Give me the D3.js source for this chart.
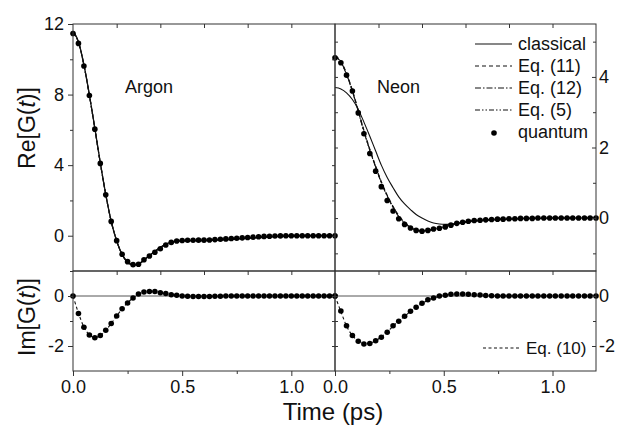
<!DOCTYPE html>
<html><head><meta charset="utf-8">
<script src="https://cdn.jsdelivr.net/npm/d3@7"></script>
<style>
body{margin:0;background:#fff;}
svg{display:block;font-family:"Liberation Sans",Arial,sans-serif;}
.tick text{fill:#111;}
</style></head>
<body><svg id="c" width="618" height="430"></svg>
<script>
// ---------- data ----------
const argonT = [0,0.025,0.05,0.075,0.1,0.125,0.15,0.175,0.2,0.225,0.25,0.275,0.3,0.325,0.35,0.375,0.4,0.425,0.45,0.475,0.5,0.525,0.55,0.575,0.6,0.625,0.65,0.675,0.7,0.725,0.75,0.775,0.8,0.825,0.85,0.875,0.9,0.925,0.95,0.975,1.0,1.025,1.05,1.075,1.1,1.125,1.15,1.175,1.2];
const neonT = [0,0.027,0.053,0.08,0.107,0.133,0.16,0.187,0.213,0.24,0.267,0.293,0.32,0.347,0.373,0.4,0.427,0.453,0.48,0.507,0.533,0.56,0.587,0.613,0.64,0.667,0.693,0.72,0.747,0.773,0.8,0.827,0.853,0.88,0.907,0.933,0.96,0.987,1.013,1.04,1.067,1.093,1.12,1.147,1.173,1.2];

const argonReQuantum = [11.46,10.9,9.62,7.95,6.04,4.1,2.32,0.81,-0.28,-1.05,-1.47,-1.64,-1.62,-1.36,-1.15,-0.94,-0.74,-0.53,-0.38,-0.3,-0.27,-0.26,-0.26,-0.25,-0.25,-0.24,-0.22,-0.2,-0.18,-0.16,-0.14,-0.12,-0.1,-0.08,-0.06,-0.04,-0.03,-0.02,-0.01,0,0,0,0,0,0,0,0,0,0];
const argonReClassical = [11.6,11.0,9.7,8.0,6.1,4.15,2.35,0.82,-0.3,-1.07,-1.5,-1.66,-1.6,-1.38,-1.12,-0.88,-0.66,-0.48,-0.37,-0.31,-0.29,-0.28,-0.28,-0.27,-0.27,-0.26,-0.25,-0.24,-0.23,-0.21,-0.19,-0.17,-0.15,-0.13,-0.11,-0.09,-0.07,-0.05,-0.04,-0.03,-0.02,-0.01,-0.01,0,0,0,0,0,0];
const argonReEq11 = [11.56,10.97,9.68,7.98,6.08,4.13,2.34,0.82,-0.29,-1.06,-1.49,-1.65,-1.6,-1.37,-1.12,-0.89,-0.67,-0.49,-0.37,-0.31,-0.28,-0.27,-0.27,-0.26,-0.26,-0.25,-0.24,-0.22,-0.21,-0.19,-0.17,-0.15,-0.13,-0.11,-0.09,-0.07,-0.05,-0.04,-0.03,-0.02,-0.01,-0.01,0,0,0,0,0,0,0];
const argonReEq12 = [11.55,10.96,9.67,7.97,6.07,4.12,2.33,0.81,-0.29,-1.06,-1.49,-1.65,-1.61,-1.37,-1.13,-0.9,-0.68,-0.5,-0.38,-0.31,-0.28,-0.27,-0.27,-0.26,-0.26,-0.25,-0.24,-0.22,-0.21,-0.19,-0.17,-0.15,-0.13,-0.11,-0.09,-0.07,-0.05,-0.04,-0.03,-0.02,-0.01,-0.01,0,0,0,0,0,0,0];
const argonReEq5 = [11.55,10.96,9.67,7.97,6.07,4.12,2.33,0.81,-0.29,-1.06,-1.49,-1.65,-1.61,-1.37,-1.13,-0.9,-0.68,-0.5,-0.38,-0.31,-0.28,-0.27,-0.27,-0.26,-0.26,-0.25,-0.24,-0.22,-0.21,-0.19,-0.17,-0.15,-0.13,-0.11,-0.09,-0.07,-0.05,-0.04,-0.03,-0.02,-0.01,-0.01,0,0,0,0,0,0,0];

const neonReQuantum = [4.54,4.4,4.05,3.6,2.98,2.39,1.83,1.33,0.89,0.5,0.2,-0.02,-0.18,-0.28,-0.35,-0.37,-0.35,-0.31,-0.29,-0.25,-0.2,-0.15,-0.12,-0.09,-0.07,-0.06,-0.05,-0.04,-0.03,-0.03,-0.02,-0.02,-0.01,-0.01,-0.01,0,0,0,0,0,0,0,0,0,0,0];
const neonReClassical = [3.70,3.66,3.55,3.36,3.08,2.72,2.32,1.9,1.5,1.15,0.86,0.6,0.4,0.24,0.1,0.0,-0.08,-0.14,-0.17,-0.18,-0.17,-0.15,-0.13,-0.11,-0.09,-0.08,-0.07,-0.06,-0.05,-0.04,-0.03,-0.03,-0.02,-0.02,-0.01,-0.01,-0.01,0,0,0,0,0,0,0,0,0];
const neonReEq11 = [4.6,4.45,4.1,3.62,3.05,2.48,1.95,1.47,1.03,0.65,0.33,0.07,-0.12,-0.25,-0.33,-0.36,-0.35,-0.32,-0.28,-0.24,-0.2,-0.16,-0.12,-0.09,-0.07,-0.06,-0.05,-0.04,-0.03,-0.03,-0.02,-0.02,-0.01,-0.01,-0.01,0,0,0,0,0,0,0,0,0,0,0];
const neonReEq12 = [4.58,4.43,4.08,3.6,3.03,2.46,1.93,1.45,1.01,0.63,0.31,0.05,-0.13,-0.26,-0.34,-0.36,-0.35,-0.32,-0.28,-0.24,-0.2,-0.16,-0.12,-0.09,-0.07,-0.06,-0.05,-0.04,-0.03,-0.03,-0.02,-0.02,-0.01,-0.01,-0.01,0,0,0,0,0,0,0,0,0,0,0];
const neonReEq5 = [4.57,4.42,4.07,3.59,3.02,2.45,1.92,1.44,1.0,0.62,0.3,0.04,-0.14,-0.27,-0.34,-0.37,-0.35,-0.32,-0.28,-0.24,-0.2,-0.16,-0.12,-0.09,-0.07,-0.06,-0.05,-0.04,-0.03,-0.03,-0.02,-0.02,-0.01,-0.01,-0.01,0,0,0,0,0,0,0,0,0,0,0];

const argonImQuantum = [0,-0.7,-1.25,-1.56,-1.67,-1.58,-1.37,-1.1,-0.8,-0.51,-0.28,-0.08,0.08,0.16,0.18,0.18,0.13,0.1,0.05,0.03,0,-0.01,-0.02,-0.02,-0.02,-0.02,-0.01,-0.01,0,0,0,0,0,0,0,0,0,0,0,0,0,0,0,0,0,0,0,0,0];
const argonImEq10 = [0,-0.68,-1.24,-1.55,-1.66,-1.58,-1.38,-1.1,-0.8,-0.51,-0.27,-0.08,0.07,0.15,0.18,0.17,0.13,0.09,0.05,0.02,0,-0.01,-0.02,-0.02,-0.02,-0.02,-0.01,-0.01,0,0,0,0,0,0,0,0,0,0,0,0,0,0,0,0,0,0,0,0,0];
const neonImQuantum = [0,-0.6,-1.19,-1.58,-1.81,-1.92,-1.9,-1.79,-1.65,-1.45,-1.19,-1.01,-0.81,-0.61,-0.45,-0.29,-0.15,-0.08,0,0.03,0.07,0.08,0.08,0.07,0.05,0.04,0.02,0.01,0,0,0,0,0,0,0,0,0,0,0,0,0,0,0,0,0,0];
const neonImEq10 = [0,-0.62,-1.2,-1.58,-1.8,-1.9,-1.89,-1.79,-1.63,-1.44,-1.2,-1.0,-0.81,-0.62,-0.45,-0.3,-0.17,-0.08,-0.01,0.03,0.06,0.07,0.07,0.06,0.05,0.04,0.02,0.01,0,0,0,0,0,0,0,0,0,0,0,0,0,0,0,0,0,0];

const xMajorTicks = [0, 0.5, 1.0];
const xMinorTicks = [0.25, 0.75];
const xTopTicks = [0.2, 0.4, 0.6, 0.8, 1.0];
const argonReMajor = [0, 4, 8, 12];
const argonReMinor = [-2, 2, 6, 10];
const neonReMajor = [0, 2, 4];
const neonReMinor = [-1, 1, 3, 5];
const imMajor = [0, -2];
const imMinor = [-1];
const legendLabels = ["classical", "Eq. (11)", "Eq. (12)", "Eq. (5)", "quantum"];

// ---------- layout ----------
const L = 73, M = 335, R = 596, T = 24, MID = 271, B = 371;
const svg = d3.select("#c");
const xL = d3.scaleLinear().domain([0, 1.2]).range([L, M]);
const xR = d3.scaleLinear().domain([0, 1.2]).range([M, R]);
const yAr = d3.scaleLinear().domain([-2, 12]).range([MID, T]);
const yNe = d3.scaleLinear().domain([-1.5, 5.5]).range([MID, T]);
const yIm = d3.scaleLinear().domain([-3, 1]).range([B, MID]);

const dashes = {classical: null, eq11: "4,3", eq12: "6,2,1.5,2", eq5: "5,2,1.5,2,1.5,2", eq10: "3,2.5"};
const fmt = d3.format(".1f");

function drawAxis(gen, tr, vals, size, labels, fontSize) {
  const g = svg.append("g").attr("transform", tr)
    .call(gen.tickValues(vals).tickSize(size).tickPadding(4)
      .tickFormat(labels ? labels : () => ""));
  g.select(".domain").remove();
  g.selectAll(".tick line").attr("stroke", "#333").attr("stroke-width", 1);
  g.selectAll(".tick text").attr("font-size", fontSize || 18).attr("font-family", "Liberation Sans, Arial, sans-serif");
  return g;
}

// zero lines in Im panels
svg.append("line").attr("x1", L).attr("x2", R).attr("y1", yIm(0)).attr("y2", yIm(0)).attr("stroke", "#555").attr("stroke-width", 1);

function drawLine(xs, ts, ys, vals, dash, w) {
  const line = d3.line().x((d, i) => xs(ts[i])).y(d => ys(d)).curve(d3.curveMonotoneX);
  svg.append("path").attr("d", line(vals)).attr("fill", "none").attr("stroke", "#111")
    .attr("stroke-width", w || 1.1).attr("stroke-dasharray", dash);
}
function drawDots(xs, ts, ys, vals) {
  svg.append("g").selectAll("circle").data(vals).join("circle")
    .attr("cx", (d, i) => xs(ts[i])).attr("cy", d => ys(d)).attr("r", 2.8).attr("fill", "#000");
}

// Argon Re
drawLine(xL, argonT, yAr, argonReEq5, dashes.eq5);
drawLine(xL, argonT, yAr, argonReEq12, dashes.eq12);
drawLine(xL, argonT, yAr, argonReEq11, dashes.eq11);
drawLine(xL, argonT, yAr, argonReClassical, null, 1.3);
drawDots(xL, argonT, yAr, argonReQuantum);
// Neon Re
drawLine(xR, neonT, yNe, neonReEq5, dashes.eq5);
drawLine(xR, neonT, yNe, neonReEq12, dashes.eq12);
drawLine(xR, neonT, yNe, neonReEq11, dashes.eq11, 1.2);
drawLine(xR, neonT, yNe, neonReClassical, null, 1.1);
drawDots(xR, neonT, yNe, neonReQuantum);
// Im
drawLine(xL, argonT, yIm, argonImEq10, dashes.eq10);
drawDots(xL, argonT, yIm, argonImQuantum);
drawLine(xR, neonT, yIm, neonImEq10, dashes.eq10);
drawDots(xR, neonT, yIm, neonImQuantum);

// frames
[[L, T, M - L, MID - T], [M, T, R - M, MID - T], [L, MID, M - L, B - MID], [M, MID, R - M, B - MID]].forEach(r => {
  svg.append("rect").attr("x", r[0]).attr("y", r[1]).attr("width", r[2]).attr("height", r[3])
    .attr("fill", "none").attr("stroke", "#333").attr("stroke-width", 1);
});

// x axes: bottom (labels), top edges & middle (minor 0.2 ticks)
[xL, xR].forEach(xs => {
  drawAxis(d3.axisBottom(xs), `translate(0,${B})`, xMajorTicks, 5, fmt, 18);
  drawAxis(d3.axisBottom(xs), `translate(0,${B})`, xMinorTicks, 3);
  drawAxis(d3.axisBottom(xs), `translate(0,${T})`, xTopTicks, 4);
  drawAxis(d3.axisBottom(xs), `translate(0,${MID})`, xTopTicks, 4);
});

// y axes
drawAxis(d3.axisLeft(yAr), `translate(${L},0)`, argonReMajor, 5, d => d, 18);
drawAxis(d3.axisLeft(yAr), `translate(${L},0)`, argonReMinor, 3);
drawAxis(d3.axisLeft(yIm), `translate(${L},0)`, imMajor, 5, d => d, 18);
drawAxis(d3.axisLeft(yIm), `translate(${L},0)`, imMinor, 3);
// divider ticks
drawAxis(d3.axisLeft(yAr), `translate(${M},0)`, argonReMajor.concat(argonReMinor).filter(v => v > -2 && v < 12), 3);
drawAxis(d3.axisRight(yNe), `translate(${M},0)`, neonReMajor.concat(neonReMinor).filter(v => v > -1.5), 3);
drawAxis(d3.axisLeft(yIm), `translate(${M},0)`, imMajor.concat(imMinor), 3);
drawAxis(d3.axisRight(yIm), `translate(${M},0)`, imMajor.concat(imMinor), 3);
// right axes
const gr1 = drawAxis(d3.axisRight(yNe), `translate(${R},0)`, neonReMajor, -4, d => d, 18);
drawAxis(d3.axisRight(yNe), `translate(${R},0)`, neonReMinor, -3);
const gr2 = drawAxis(d3.axisRight(yIm), `translate(${R},0)`, imMajor, -4, d => d, 18);
drawAxis(d3.axisRight(yIm), `translate(${R},0)`, imMinor, -3);
[gr1, gr2].forEach(g => g.selectAll(".tick text").attr("x", 3));

// panel labels
svg.append("text").attr("x", 125).attr("y", 93).attr("font-size", 18).attr("fill", "#111").text("Argon");
svg.append("text").attr("x", 377).attr("y", 93).attr("font-size", 18).attr("fill", "#111").text("Neon");

// axis titles
function yTitle(cx, cy, prefix) {
  const t = svg.append("text").attr("transform", `translate(${cx},${cy}) rotate(-90)`)
    .attr("text-anchor", "middle").attr("font-size", 23).attr("fill", "#111");
  t.append("tspan").text(prefix + "[G(");
  t.append("tspan").attr("font-style", "italic").text("t");
  t.append("tspan").text(")]");
}
yTitle(35, 128, "Re");
yTitle(35, 317, "Im");
svg.append("text").attr("x", 333).attr("y", 420).attr("text-anchor", "middle").attr("font-size", 24).attr("fill", "#111").text("Time (ps)");

// legend
const legDash = [null, dashes.eq11, dashes.eq12, dashes.eq5];
const legY = [44, 66, 88, 110, 132];
legendLabels.forEach((lab, i) => {
  if (i < 4) {
    svg.append("line").attr("x1", 475).attr("x2", 512).attr("y1", legY[i]).attr("y2", legY[i])
      .attr("stroke", "#111").attr("stroke-width", 1.1).attr("stroke-dasharray", legDash[i]);
  } else {
    svg.append("circle").attr("cx", 494).attr("cy", legY[i] + 1).attr("r", 2.8).attr("fill", "#000");
  }
  svg.append("text").attr("x", 518).attr("y", legY[i]).attr("dy", "0.35em").attr("font-size", 18).attr("fill", "#111").text(lab);
});
svg.append("line").attr("x1", 483).attr("x2", 521).attr("y1", 348).attr("y2", 348)
  .attr("stroke", "#111").attr("stroke-width", 1.1).attr("stroke-dasharray", dashes.eq10);
svg.append("text").attr("x", 526).attr("y", 348).attr("dy", "0.35em").attr("font-size", 17).attr("fill", "#111").text("Eq. (10)");
</script></body></html>
